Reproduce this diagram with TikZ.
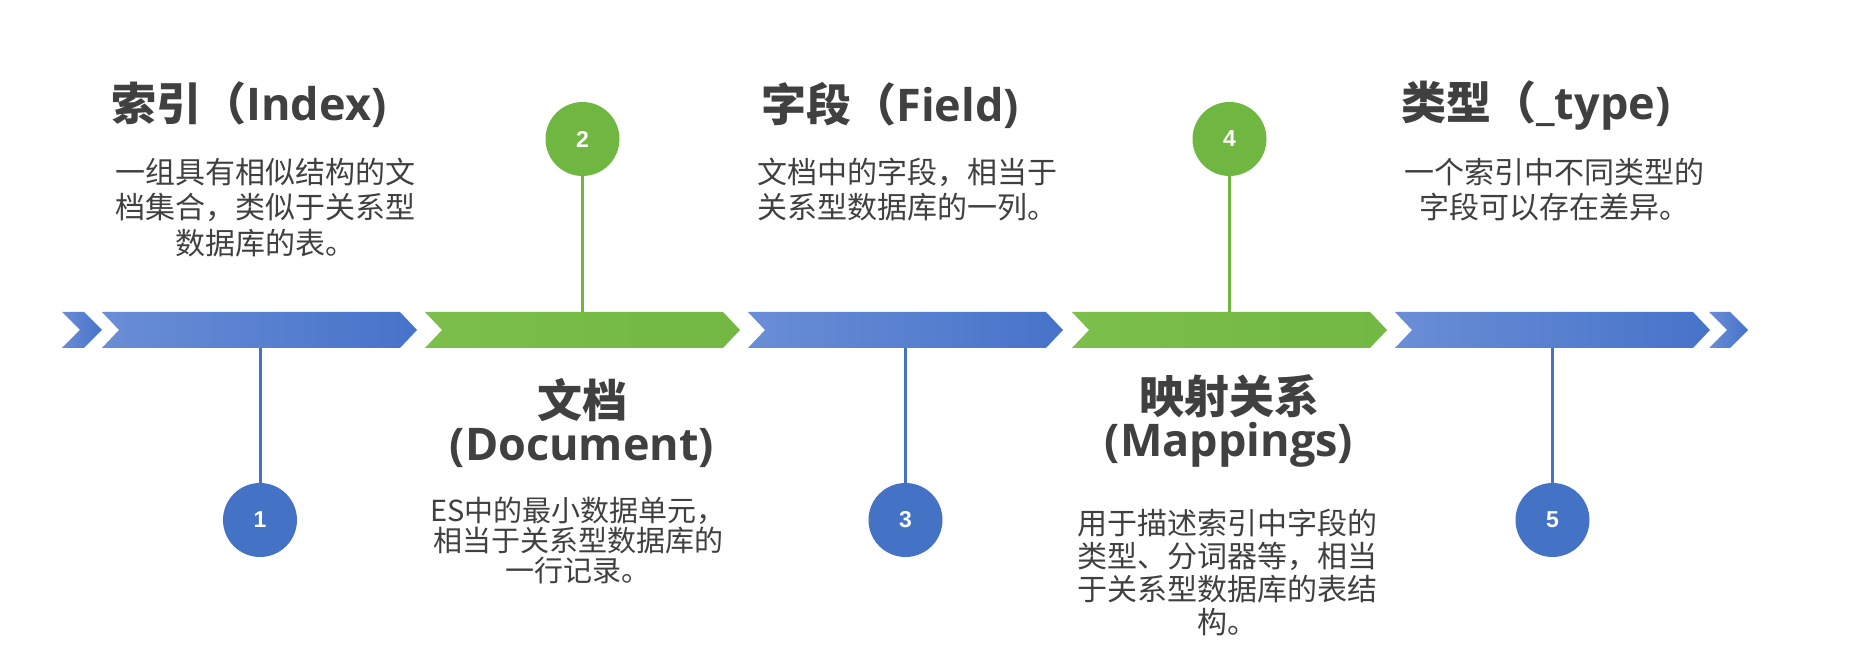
\documentclass[tikz,border=0pt]{standalone}
\usepackage{fontspec}
\setmainfont{Noto Sans CJK SC}
\newfontfamily\latb{Open Sans}
\newfontfamily\numf{Liberation Sans}
\definecolor{txt}{HTML}{404040}
\definecolor{bl}{HTML}{4472C4}
\definecolor{blL}{HTML}{6A8ED6}
\definecolor{blR}{HTML}{4673C9}
\definecolor{gr}{HTML}{70B742}
\definecolor{grL}{HTML}{7CBF4B}
\definecolor{grM}{HTML}{89C65A}
\definecolor{grR}{HTML}{72B842}
\newcommand{\chevpath}[2]{(#1,312) -- ++(#2-17,0) -- ++(17,18) -- ++(-17,18) -- (#1,348) -- ++(17,-18) -- cycle}
\begin{document}
\begin{tikzpicture}[x=0.5pt,y=-0.5pt,
  ttl/.style={inner sep=0pt, text=txt, font=\fontsize{22.5pt}{21.5pt}\selectfont\bfseries, align=center},
  body/.style={inner sep=0pt, text=txt, align=center},
  numc/.style={circle, minimum size=37pt, inner sep=0pt, text=white, font=\numf\bfseries\fontsize{11.5pt}{13pt}\selectfont},
  bstem/.style={draw=bl, line width=1.5pt},
  gstem/.style={draw=gr, line width=1.5pt},
  bshade/.style={left color=blL, right color=blR},
  gshade/.style={left color=grL, middle color=grM, right color=grR}
]
\useasboundingbox (0,0) rectangle (1860,662);
\fill[white] (0,0) rectangle (1860,662);

% small chevrons
\shade[bshade] (62,312) -- (84,312) -- (102,330) -- (84,348) -- (62,348) -- (80,330) -- cycle;
\shade[bshade] (1709,312) -- (1730,312) -- (1748,330) -- (1730,348) -- (1709,348) -- (1727,330) -- cycle;

% main chevrons
\shade[bshade] \chevpath{102}{315};
\shade[gshade] \chevpath{425}{315};
\shade[bshade] \chevpath{748}{315};
\shade[gshade] \chevpath{1072}{315};
\shade[bshade] \chevpath{1395}{315};

\coordinate (k1) at (260,348);
\coordinate (k2) at (582.5,312);
\coordinate (k3) at (905.5,348);
\coordinate (k4) at (1229.5,312);
\coordinate (k5) at (1552.5,348);

% circles
\node[numc, fill=bl] (c1) at (260,520) {1};
\node[numc, fill=gr] (c2) at (582.5,139) {2};
\node[numc, fill=bl] (c3) at (905.5,520) {3};
\node[numc, fill=gr] (c4) at (1229.5,139) {4};
\node[numc, fill=bl] (c5) at (1552.5,520) {5};

\draw[bstem] (k1) -- (c1);
\draw[gstem] (c2) -- (k2);
\draw[bstem] (k3) -- (c3);
\draw[gstem] (c4) -- (k4);
\draw[bstem] (k5) -- (c5);

% titles
\node[ttl, anchor=west] (t1) at (111,105) {索引（{\latb Index)}};
\node[ttl, anchor=west] (t3) at (761,105) {字段（{\latb Field)}};
\node[ttl, anchor=west] (t5) at (1401,105) {类型（{\latb \_type)}};
\node[ttl] (t2) at (582,423) {文档\\{\latb (Document)}};
\node[ttl] (t4) at (1229,421) {映射关系\\{\latb (Mappings)}};

% bodies
\node[body, font=\fontsize{15pt}{17.75pt}\selectfont] (b1) at (265,207.5) {一组具有相似结构的文\\档集合，类似于关系型\\数据库的表。};
\node[body, font=\fontsize{15pt}{17.75pt}\selectfont] (b3) at (907,189.5) {文档中的字段，相当于\\关系型数据库的一列。};
\node[body, font=\fontsize{15pt}{17.75pt}\selectfont] (b5) at (1554,189.5) {一个索引中不同类型的\\字段可以存在差异。};
\node[body, font=\fontsize{14.5pt}{15pt}\selectfont] (b2) at (578,540) {ES中的最小数据单元，\\相当于关系型数据库的\\一行记录。};
\node[body, font=\fontsize{15pt}{16.5pt}\selectfont] (b4) at (1227,573) {用于描述索引中字段的\\类型、分词器等，相当\\于关系型数据库的表结\\构。};
\end{tikzpicture}
\end{document}
